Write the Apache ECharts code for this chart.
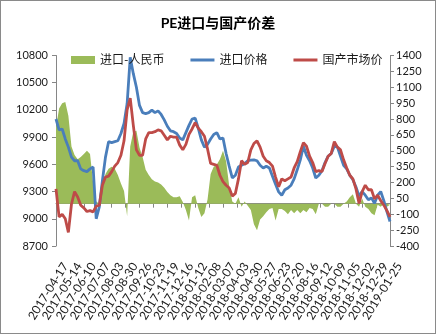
<!DOCTYPE html>
<html>
<head>
<meta charset="utf-8">
<script src="https://cdn.jsdelivr.net/npm/echarts@6/dist/echarts.min.js"></script>
<style>
html,body{margin:0;padding:0;background:#fff;}
#chart{position:absolute;left:0;top:0;width:436px;height:334px;}
#frame{position:absolute;left:0;top:0;width:436px;height:334px;box-sizing:border-box;border:1px solid #8a8a8a;pointer-events:none;}
</style>
</head>
<body>
<div id="chart"></div>
<div id="frame"></div>
<script>
// x axis: days since start date, sampled every stepDays
const startDate = '2017-04-17';
const stepDays = 6;
const tickStepDays = 27;
const tickLabels = ['2017-04-17','2017-05-14','2017-06-10','2017-07-07','2017-08-03','2017-08-30','2017-09-26','2017-10-23','2017-11-19','2017-12-16','2018-01-12','2018-02-08','2018-03-07','2018-04-03','2018-04-30','2018-05-27','2018-06-23','2018-07-20','2018-08-16','2018-09-12','2018-10-09','2018-11-05','2018-12-02','2018-12-29','2019-01-25'];

const seriesNames = ['进口-人民币','进口价格','国产市场价'];

// 进口-人民币 (right axis)
const spread = [720,900,950,960,830,540,460,420,440,470,500,470,200,20,0,150,280,330,350,330,270,190,120,-120,540,680,690,530,440,320,270,230,210,200,180,150,110,80,60,60,70,15,-60,-160,60,80,-40,-127,-90,40,280,350,370,420,500,400,170,20,0,60,-30,20,-20,-60,-194,-250,-150,-120,-80,-50,-40,-160,-50,-50,-70,-100,-60,-90,-60,-90,-60,-80,-40,-50,-100,0,0,-30,-30,0,0,-30,-30,0,20,60,90,0,-30,50,-30,-50,-90,-110,-10,-30,0,-30,-10];

// 进口价格 (left axis)
const importPrice = [10100,9980,9990,9880,9790,9680,9640,9640,9550,9530,9520,9550,9570,9000,9130,9420,9680,9850,9840,9850,9860,9940,10050,10270,10780,10600,10450,10250,10170,10160,10170,10198,10170,10190,10150,10090,10020,9970,9960,9940,9890,9870,9950,10030,10100,10110,10000,9870,9790,9820,9880,9930,9950,9880,9890,9720,9580,9450,9480,9570,9590,9610,9640,9646,9650,9640,9590,9560,9580,9560,9470,9380,9297,9260,9320,9340,9370,9440,9540,9650,9800,9700,9640,9560,9450,9480,9530,9620,9690,9720,9800,9790,9690,9590,9550,9480,9430,9350,9250,9300,9260,9210,9230,9170,9260,9300,9200,9080,8970];

// 国产市场价 (left axis)
const domesticPrice = [9330,9020,9050,9000,8850,9160,9300,9240,9150,9120,9080,9090,9076,9140,9150,9370,9460,9470,9520,9580,9620,9700,9860,10200,10330,10030,9760,9700,9700,9880,9950,9950,9960,9980,9970,9920,9870,9910,9900,9900,9812,9760,9820,9930,9990,10060,10000,9960,9910,9770,9610,9600,9590,9480,9410,9370,9340,9250,9280,9440,9640,9600,9620,9760,9830,9860,9790,9690,9640,9620,9580,9460,9352,9440,9420,9440,9460,9560,9630,9740,9840,9800,9690,9620,9520,9530,9520,9610,9690,9720,9850,9790,9760,9650,9560,9480,9440,9330,9170,9300,9370,9320,9320,9220,9260,9200,9150,9090,9020];

const toPairs = arr => arr.map((v, i) => [i * stepDays, v]);
const font = 'Lato, "Noto Sans CJK SC", sans-serif';
const axisColor = '#868686';
const textColor = '#1a1a1a';
const lineIcon = 'path://M0,0L24,0L24,3L0,3Z';

const chart = echarts.init(document.getElementById('chart'), null, {renderer: 'canvas'});
chart.setOption({
  animation: false,
  backgroundColor: '#fff',
  textStyle: {fontFamily: font},
  title: {
    text: 'PE进口与国产价差',
    left: 'center', top: 11,
    textStyle: {fontSize: 14, fontWeight: 'bold', color: '#000', fontFamily: font}
  },
  legend: {
    left: 66, top: 49,
    itemWidth: 24, itemHeight: 8, itemGap: 26,
    textStyle: {fontSize: 12, color: textColor, fontFamily: font},
    data: [
      {name: seriesNames[0], icon: 'rect'},
      {name: seriesNames[1], icon: lineIcon},
      {name: seriesNames[2], icon: lineIcon}
    ]
  },
  grid: {left: 56, right: 46, top: 55.5, bottom: 88, containLabel: false},
  xAxis: {
    type: 'value', min: 0, max: (tickLabels.length - 1) * tickStepDays, interval: tickStepDays,
    axisLine: {show: true, lineStyle: {color: axisColor, width: 1}},
    axisTick: {show: true, length: 4, lineStyle: {color: axisColor}},
    splitLine: {show: false},
    axisLabel: {
      rotate: 58, margin: 12, fontSize: 12, color: textColor, fontFamily: font,
      verticalAlign: 'top', padding: [5, 0, 0, 0],
      formatter: v => tickLabels[Math.round(v / tickStepDays)] || ''
    }
  },
  yAxis: [
    {
      type: 'value', min: 8700, max: 10800, interval: 300, position: 'left',
      axisLine: {show: true, lineStyle: {color: axisColor}},
      axisTick: {show: true, length: 4, lineStyle: {color: axisColor}},
      splitLine: {show: false},
      axisLabel: {fontSize: 11, color: textColor, margin: 8, fontFamily: font, formatter: v => String(v)}
    },
    {
      type: 'value', min: -400, max: 1400, interval: 150, position: 'right',
      axisLine: {show: true, lineStyle: {color: axisColor}},
      axisTick: {show: true, length: 4, lineStyle: {color: axisColor}},
      splitLine: {show: false},
      axisLabel: {fontSize: 11, color: textColor, margin: 6, fontFamily: font, formatter: v => String(v)}
    }
  ],
  series: [
    {
      name: seriesNames[0], type: 'line', yAxisIndex: 1,
      data: toPairs(spread), symbol: 'none',
      lineStyle: {width: 0, color: '#9BBB59'},
      itemStyle: {color: '#9BBB59'},
      areaStyle: {color: '#9BBB59', opacity: 1}
    },
    {
      name: seriesNames[1], type: 'line', yAxisIndex: 0,
      data: toPairs(importPrice), symbol: 'none',
      lineStyle: {width: 2.8, color: '#4A7EBB'},
      itemStyle: {color: '#4A7EBB'}
    },
    {
      name: seriesNames[2], type: 'line', yAxisIndex: 0,
      data: toPairs(domesticPrice), symbol: 'none',
      lineStyle: {width: 2.8, color: '#BE4B48'},
      itemStyle: {color: '#BE4B48'}
    }
  ]
});
</script>
</body>
</html>
